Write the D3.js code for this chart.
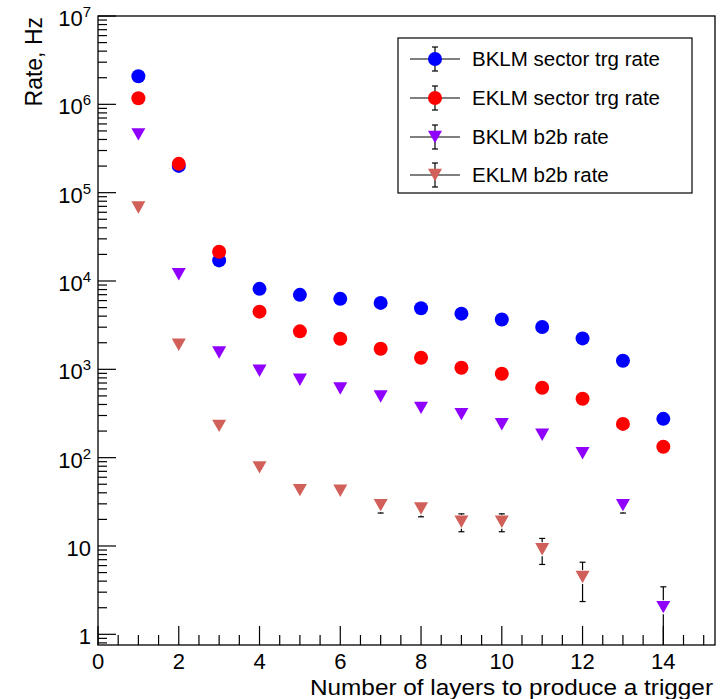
<html>
<head>
<meta charset="utf-8">
<script src="https://d3js.org/d3.v7.min.js"></script>
<style>
body {margin: 0; background: white;}
text {font-family: 'Liberation Sans', Arial, Helvetica, sans-serif; fill: #000;}
</style>
</head>
<body>
<div id="chart"></div>
<script>
// number of layers needed to produce a trigger
var layers = [1, 2, 3, 4, 5, 6, 7, 8, 9, 10, 11, 12, 13, 14];

// rates in Hz
var bklmSector = [2.08e6, 2.01e5, 1.71e4, 8150, 6970, 6280, 5650, 4910, 4270, 3660, 3020, 2240, 1250, 275];
var eklmSector = [1.17e6, 2.12e5, 2.14e4, 4500, 2690, 2220, 1710, 1350, 1040, 891, 618, 464, 241, 133];
var bklmB2b = [4.57e5, 1.19e4, 1550, 963, 761, 607, 492, 366, 311, 239, 182, 112, 29, 2.03];
var eklmB2b = [6.78e4, 1900, 229, 77.7, 42.9, 42.2, 29, 26.6, 18.8, 18.8, 9.18, 4.45];

// errors
var bklmSectorErr = [1440, 450, 131, 90, 83, 79, 75, 70, 65, 60, 55, 47, 35, 16.6];
var eklmSectorErr = [1080, 460, 146, 67, 52, 47, 41, 37, 32, 30, 25, 21.5, 15.5, 11.5];
var bklmB2bErr = [676, 109, 39, 31, 27.6, 24.6, 22.2, 19.1, 17.6, 15.5, 13.5, 10.6, 5.4, 1.42];
var eklmB2bErr = [260, 43.6, 15.1, 8.8, 6.5, 6.5, 5.4, 5.2, 4.3, 4.3, 3.0, 2.1];

var seriesNames = ["BKLM sector trg rate", "EKLM sector trg rate", "BKLM b2b rate", "EKLM b2b rate"];
var seriesColors = ["#0000ff", "#ff0000", "#9000ff", "#d2605a"];
var seriesShapes = ["circle", "circle", "triangle", "triangle"];

var xTicks = [0, 2, 4, 6, 8, 10, 12, 14];
var yTicks = [1, 10, 1e2, 1e3, 1e4, 1e5, 1e6, 1e7];
var xTitle = "Number of layers to produce a trigger";
var yTitle = "Rate, Hz";

var allValues = [bklmSector, eklmSector, bklmB2b, eklmB2b];
var allErrors = [bklmSectorErr, eklmSectorErr, bklmB2bErr, eklmB2bErr];

var W = 723, H = 699;
var padL = 98, padR = 715, padT = 16, padB = 645;
var gap = 7; // error bars are not drawn inside the marker

var svg = d3.select("#chart").append("svg").attr("width", W).attr("height", H);

var x = d3.scaleLinear().domain([0, 15.28]).range([padL, padR]);
var y = d3.scaleLog().domain([0.757, 1e7]).range([padB, padT]);

svg.append("defs").append("clipPath").attr("id", "frame")
  .append("rect").attr("x", padL).attr("y", padT).attr("width", padR - padL).attr("height", padB - padT);

// triangle pointing down, centred on (cx, cy)
function triangle(cx, cy) {
  var w = 7, h = 6.2;
  return "M" + (cx - w) + "," + (cy - h) + "L" + (cx + w) + "," + (cy - h) + "L" + cx + "," + (cy + h) + "Z";
}

function drawMarker(g, shape, cx, cy, color) {
  if (shape == "circle") {
    g.append("circle").attr("cx", cx).attr("cy", cy).attr("r", 7).attr("fill", color);
  } else {
    g.append("path").attr("d", triangle(cx, cy)).attr("fill", color);
  }
}

function seg(g, x1, y1, x2, y2) {
  g.append("line").attr("x1", x1).attr("x2", x2).attr("y1", y1).attr("y2", y2)
    .attr("stroke", "#000").attr("stroke-width", 1.2);
}

// frame
svg.append("rect").attr("x", padL).attr("y", padT).attr("width", padR - padL).attr("height", padB - padT)
  .attr("fill", "none").attr("stroke", "#000").attr("stroke-width", 1.3);

// x ticks
var xMinor = d3.range(0, 15.3, 0.5);
svg.append("g").selectAll("line").data(xMinor).enter().append("line")
  .attr("x1", function(d) { return x(d); }).attr("x2", function(d) { return x(d); })
  .attr("y1", padB)
  .attr("y2", function(d) { return d % 2 == 0 ? padB - 19 : padB - 10; })
  .attr("stroke", "#000").attr("stroke-width", 1.2);

svg.append("g").selectAll("text").data(xTicks).enter().append("text")
  .attr("x", function(d) { return x(d); }).attr("y", 669)
  .attr("text-anchor", "middle").style("font-size", "22px")
  .text(function(d) { return d; });

// y ticks, 1..9 per decade
var yMinor = [0.8, 0.9];
for (var e = 0; e < 7; e++) {
  for (var m = 1; m < 10; m++) yMinor.push(m * Math.pow(10, e));
}
yMinor.push(1e7);
svg.append("g").selectAll("line").data(yMinor).enter().append("line")
  .attr("x1", padL)
  .attr("x2", function(d) { return yTicks.indexOf(d) >= 0 ? padL + 18 : padL + 9; })
  .attr("y1", function(d) { return y(d); }).attr("y2", function(d) { return y(d); })
  .attr("stroke", "#000").attr("stroke-width", 1.2);

var ylab = svg.append("g").selectAll("text").data(yTicks).enter().append("text")
  .attr("x", 91).attr("y", function(d) { return y(d) + 10; })
  .attr("text-anchor", "end").style("font-size", "22px");
ylab.each(function(d) {
  var p = Math.round(Math.log10(d));
  var t = d3.select(this);
  if (p < 2) { t.text(d); return; }
  t.append("tspan").text("10");
  t.append("tspan").attr("dy", -9).style("font-size", "15px").text(p);
});

// axis titles
svg.append("text").attr("x", 713).attr("y", 695).attr("text-anchor", "end")
  .style("font-size", "22px").attr("textLength", 403).attr("lengthAdjust", "spacingAndGlyphs").text(xTitle);
svg.append("text").attr("transform", "translate(42,17) rotate(-90)").attr("text-anchor", "end")
  .style("font-size", "23px").text(yTitle);

// data: error bars then markers
var plot = svg.append("g").attr("clip-path", "url(#frame)");
allValues.forEach(function(vals, s) {
  var errs = allErrors[s];
  vals.forEach(function(v, i) {
    var cx = x(layers[i]);
    var cy = y(v);
    var lo = v - errs[i];
    var y1 = y(v + errs[i]);
    var y2 = lo > 0 ? y(lo) : padB + 10;
    if (y1 < cy - gap) {
      seg(plot, cx, y1, cx, cy - gap);
      seg(plot, cx - 3, y1, cx + 3, y1);
    }
    if (y2 > cy + gap) {
      seg(plot, cx, cy + gap, cx, y2);
      seg(plot, cx - 3, y2, cx + 3, y2);
    }
  });
});
allValues.forEach(function(vals, s) {
  vals.forEach(function(v, i) {
    drawMarker(plot, seriesShapes[s], x(layers[i]), y(v), seriesColors[s]);
  });
});

// legend
var leg = svg.append("g");
leg.append("rect").attr("x", 398).attr("y", 38).attr("width", 294).attr("height", 155)
  .attr("fill", "white").attr("stroke", "#000").attr("stroke-width", 1.2);
var legY = [59, 98, 137, 175];
seriesNames.forEach(function(name, s) {
  var ly = legY[s];
  seg(leg, 410, ly, 460, ly);
  seg(leg, 435, ly - 12, 435, ly + 12);
  seg(leg, 432, ly - 12, 438, ly - 12);
  seg(leg, 432, ly + 12, 438, ly + 12);
  drawMarker(leg, seriesShapes[s], 435, ly, seriesColors[s]);
  leg.append("text").attr("x", 472).attr("y", ly + 7).style("font-size", "20.5px").text(name);
});
</script>
</body>
</html>
